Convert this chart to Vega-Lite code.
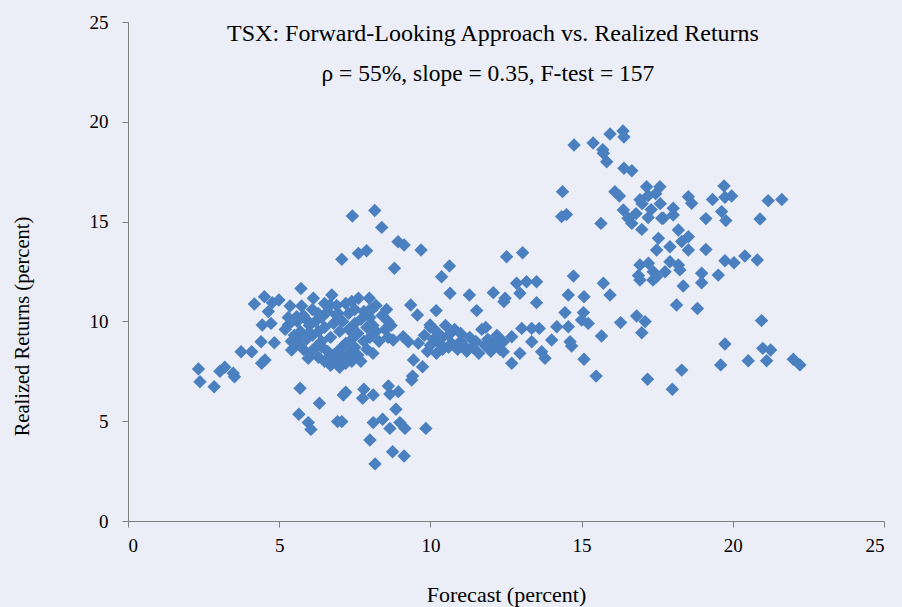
{
  "$schema": "https://vega.github.io/schema/vega-lite/v6.json",
  "width": 756,
  "height": 499,
  "autosize": "none",
  "padding": {"left": 128, "top": 22, "right": 18, "bottom": 86},
  "background": "#ebeef6",
  "config": {"view": {"stroke": null}, "font": "Liberation Serif"},
  "datasets": {
    "pts": [
      {"f":2.33,"r":7.62},{"f":2.38,"r":6.98},{"f":2.85,"r":6.73},{"f":3.04,"r":7.5},{"f":3.2,"r":7.7},{"f":3.48,"r":7.4},{"f":3.52,"r":7.23},{"f":3.74,"r":8.48},{"f":4.09,"r":8.48},{"f":4.42,"r":7.9},{"f":4.53,"r":8.07},{"f":4.4,"r":8.98},{"f":4.84,"r":8.93},{"f":4.44,"r":9.82},{"f":4.73,"r":9.9},{"f":4.18,"r":10.87},{"f":4.51,"r":11.24},{"f":4.77,"r":10.94},{"f":4.99,"r":11.07},{"f":4.64,"r":10.49},{"f":5.36,"r":10.77},{"f":5.74,"r":10.77},{"f":6.13,"r":11.16},{"f":6.74,"r":11.32},{"f":6.68,"r":10.82},{"f":5.3,"r":9.82},{"f":5.58,"r":10.24},{"f":5.91,"r":10.07},{"f":6.29,"r":10.4},{"f":6.95,"r":10.4},{"f":5.41,"r":8.57},{"f":5.63,"r":9.23},{"f":5.96,"r":9.4},{"f":5.96,"r":8.15},{"f":6.4,"r":8.73},{"f":6.74,"r":8.23},{"f":5.72,"r":11.65},{"f":5.69,"r":6.65},{"f":6.33,"r":5.9},{"f":5.65,"r":5.35},{"f":5.96,"r":4.93},{"f":6.05,"r":4.59},{"f":6.93,"r":4.98},{"f":7.12,"r":6.31},{"f":7.2,"r":6.45},
      {"f":7.8,"r":6.6},{"f":7.76,"r":6.15},{"f":8.11,"r":6.31},{"f":8.61,"r":6.76},{"f":8.66,"r":6.36},{"f":8.94,"r":6.48},{"f":9.38,"r":7.06},{"f":7.07,"r":4.98},{"f":8.11,"r":4.93},{"f":8.42,"r":5.1},{"f":8.86,"r":5.6},{"f":8.66,"r":4.64},{"f":8.99,"r":4.93},{"f":9.16,"r":4.64},{"f":9.85,"r":4.64},{"f":8.0,"r":4.06},{"f":8.75,"r":3.47},{"f":9.13,"r":3.26},{"f":8.17,"r":2.86},
      {"f":7.42,"r":15.28},{"f":8.16,"r":15.56},{"f":8.39,"r":14.71},{"f":8.93,"r":13.99},{"f":9.13,"r":13.83},{"f":9.69,"r":13.58},{"f":7.07,"r":13.11},{"f":7.62,"r":13.41},{"f":7.89,"r":13.54},{"f":8.81,"r":12.66},{"f":10.63,"r":12.78},{"f":10.37,"r":12.24},{"f":10.65,"r":11.41},{"f":11.29,"r":11.32},{"f":12.08,"r":11.44},{"f":12.47,"r":11.16},{"f":12.52,"r":13.24},{"f":7.62,"r":11.16},{"f":7.98,"r":11.16},
      {"f":8.06,"r":10.6},{"f":8.55,"r":10.6},{"f":8.77,"r":9.07},{"f":9.1,"r":9.23},{"f":9.27,"r":8.98},{"f":9.44,"r":8.07},{"f":9.74,"r":7.73},{"f":9.41,"r":7.26},{"f":9.35,"r":10.82},{"f":9.57,"r":10.32},{"f":10.19,"r":10.54},{"f":11.53,"r":10.54},{"f":11.83,"r":9.7},{"f":9.99,"r":9.82},{"f":12.43,"r":10.99},
      {"f":5.2,"r":9.6},{"f":5.3,"r":10.2},{"f":5.4,"r":9.0},{"f":5.5,"r":9.3},{"f":5.6,"r":8.9},{"f":5.6,"r":10.0},{"f":5.7,"r":9.5},{"f":5.8,"r":8.6},{"f":5.8,"r":10.3},{"f":5.9,"r":9.1},{"f":6.0,"r":9.8},{"f":6.0,"r":8.4},{"f":6.1,"r":10.6},{"f":6.1,"r":9.3},{"f":6.2,"r":8.7},{"f":6.2,"r":10.0},{"f":6.3,"r":9.5},{"f":6.3,"r":8.2},{"f":6.4,"r":10.2},{"f":6.4,"r":9.0},{"f":6.5,"r":8.0},{"f":6.5,"r":9.7},{"f":6.6,"r":8.5},{"f":6.6,"r":10.5},{"f":6.7,"r":7.8},{"f":6.7,"r":9.2},{"f":6.8,"r":8.3},{"f":6.8,"r":9.9},{"f":6.9,"r":8.0},{"f":6.9,"r":10.3},{"f":7.0,"r":8.6},{"f":7.0,"r":7.7},{"f":7.0,"r":9.5},{"f":7.1,"r":8.2},{"f":7.1,"r":10.0},{"f":7.2,"r":8.9},{"f":7.2,"r":7.9},{"f":7.3,"r":9.6},{"f":7.3,"r":8.4},{"f":7.3,"r":10.4},{"f":7.4,"r":8.0},{"f":7.4,"r":9.1},{"f":7.5,"r":8.7},{"f":7.5,"r":9.9},{"f":7.5,"r":10.6},{"f":7.6,"r":8.3},{"f":7.6,"r":9.4},{"f":7.7,"r":10.1},{"f":7.7,"r":8.0},{"f":7.8,"r":9.0},{"f":7.8,"r":10.5},{"f":7.9,"r":8.6},{"f":7.9,"r":9.7},{"f":8.0,"r":9.2},{"f":8.0,"r":10.2},{"f":8.1,"r":8.4},{"f":8.1,"r":9.8},{"f":8.2,"r":9.5},{"f":8.2,"r":10.8},{"f":8.3,"r":9.0},{"f":8.4,"r":10.3},{"f":8.5,"r":9.6},{"f":8.6,"r":9.2},{"f":8.6,"r":10.0},{"f":8.7,"r":9.8},{"f":6.9,"r":10.8},{"f":7.2,"r":10.9},{"f":7.4,"r":11.0},{"f":6.5,"r":10.9},{"f":8.0,"r":10.6},
      {"f":9.6,"r":8.9},{"f":9.8,"r":9.3},{"f":9.9,"r":8.5},{"f":10.0,"r":9.7},{"f":10.0,"r":8.8},{"f":10.1,"r":9.1},{"f":10.2,"r":8.4},{"f":10.2,"r":9.5},{"f":10.3,"r":8.9},{"f":10.4,"r":9.2},{"f":10.4,"r":8.6},{"f":10.5,"r":9.8},{"f":10.6,"r":8.7},{"f":10.6,"r":9.3},{"f":10.7,"r":8.9},{"f":10.8,"r":9.6},{"f":10.9,"r":8.6},{"f":11.0,"r":9.0},{"f":11.0,"r":9.4},{"f":11.1,"r":8.8},{"f":11.2,"r":8.5},{"f":11.3,"r":9.2},{"f":11.4,"r":8.7},{"f":11.5,"r":9.0},{"f":11.6,"r":8.4},{"f":11.7,"r":9.6},{"f":11.8,"r":8.8},{"f":11.9,"r":9.1},{"f":12.0,"r":8.5},{"f":12.1,"r":8.9},{"f":12.2,"r":9.3},{"f":12.3,"r":8.6},
      {"f":12.85,"r":11.91},{"f":13.18,"r":11.99},{"f":13.51,"r":11.99},{"f":12.96,"r":11.41},{"f":13.51,"r":10.94},{"f":14.56,"r":11.32},{"f":15.08,"r":11.24},{"f":15.72,"r":11.91},{"f":15.94,"r":11.32},{"f":16.93,"r":12.07},{"f":17.36,"r":12.07},{"f":14.45,"r":10.44},{"f":15.06,"r":10.44},{"f":15.0,"r":10.07},{"f":15.22,"r":9.9},{"f":16.29,"r":9.94},{"f":16.82,"r":10.27},{"f":17.1,"r":9.99},{"f":16.99,"r":9.43},{"f":15.66,"r":9.27},{"f":13.02,"r":9.65},{"f":13.35,"r":9.65},{"f":13.6,"r":9.65},{"f":14.18,"r":9.73},{"f":14.56,"r":9.73},{"f":14.62,"r":8.98},{"f":14.67,"r":8.77},{"f":14.01,"r":9.07},{"f":13.35,"r":8.98},{"f":13.68,"r":8.48},{"f":13.79,"r":8.15},{"f":12.96,"r":8.4},{"f":12.69,"r":7.9},{"f":12.41,"r":8.98},{"f":12.69,"r":9.23},{"f":12.41,"r":8.48},{"f":15.08,"r":8.1},{"f":15.48,"r":7.26},{"f":17.18,"r":7.1},{"f":18.0,"r":6.6},{"f":18.31,"r":7.56},
      {"f":15.72,"r":18.42},{"f":15.83,"r":18.0},{"f":16.4,"r":17.67},{"f":16.66,"r":17.55},{"f":14.37,"r":16.5},{"f":16.1,"r":16.5},{"f":16.25,"r":16.28},{"f":17.15,"r":16.75},{"f":17.59,"r":16.75},{"f":16.93,"r":16.1},{"f":17.2,"r":16.3},{"f":17.45,"r":16.4},{"f":14.34,"r":15.25},{"f":14.5,"r":15.35},{"f":15.64,"r":14.91},{"f":16.38,"r":15.58},{"f":16.54,"r":15.17},{"f":16.66,"r":14.91},{"f":16.99,"r":14.61},{"f":17.65,"r":15.17},{"f":17.54,"r":14.16},{"f":17.48,"r":13.58},{"f":13.05,"r":13.44},{"f":16.93,"r":12.83},{"f":17.21,"r":12.91},{"f":17.37,"r":12.49},{"f":16.88,"r":12.3},{"f":17.48,"r":12.24},{"f":14.73,"r":12.27},
      {"f":17.0,"r":15.9},{"f":17.3,"r":15.6},{"f":16.8,"r":15.4},{"f":17.2,"r":15.2},{"f":17.6,"r":15.9},
      {"f":14.75,"r":18.84},{"f":15.38,"r":18.94},{"f":15.7,"r":18.6},{"f":15.94,"r":19.39},{"f":16.37,"r":19.54},{"f":16.4,"r":19.24},
      {"f":18.53,"r":16.25},{"f":18.64,"r":15.92},{"f":19.33,"r":16.11},{"f":19.71,"r":16.78},{"f":19.74,"r":16.22},{"f":19.96,"r":16.28},{"f":21.17,"r":16.05},{"f":21.62,"r":16.11},{"f":20.9,"r":15.13},{"f":19.11,"r":15.15},{"f":19.63,"r":15.5},{"f":19.77,"r":15.05},{"f":18.03,"r":15.67},{"f":18.03,"r":15.33},{"f":17.7,"r":15.17},{"f":18.2,"r":14.58},{"f":18.53,"r":14.24},{"f":18.31,"r":14.0},{"f":17.92,"r":13.74},{"f":19.11,"r":13.6},
      {"f":18.53,"r":13.58},{"f":17.92,"r":12.99},{"f":18.2,"r":12.83},{"f":18.25,"r":12.58},{"f":17.76,"r":12.49},{"f":19.74,"r":13.04},{"f":20.04,"r":12.94},{"f":20.4,"r":13.28},{"f":20.81,"r":13.08},{"f":18.97,"r":12.41},{"f":18.97,"r":11.94},{"f":19.52,"r":12.32},{"f":18.36,"r":11.77},{"f":18.14,"r":10.82},{"f":18.83,"r":10.65},{"f":20.95,"r":10.04},{"f":19.74,"r":8.87},{"f":20.99,"r":8.65},{"f":21.25,"r":8.57},{"f":21.12,"r":8.03},{"f":20.51,"r":8.03},{"f":19.6,"r":7.82},{"f":22.0,"r":8.1},{"f":22.22,"r":7.82}
    ]
  },
  "layer": [
    {
      "data": {"name": "pts"},
      "mark": {"type": "point", "shape": "diamond", "filled": true, "size": 180, "color": "#4a7fc0", "opacity": 1},
      "encoding": {
        "x": {
          "field": "f", "type": "quantitative",
          "scale": {"domain": [0, 25], "nice": false, "zero": false},
          "axis": {
            "title": "Forecast (percent)", "values": [0, 5, 10, 15, 20, 25],
            "grid": false, "domainColor": "#7f7f7f", "tickColor": "#7f7f7f", "tickSize": 6,
            "labelFont": "Liberation Serif", "labelFontSize": 19, "labelColor": "#000000", "labelPadding": 9,
            "titleFont": "Liberation Serif", "titleFontSize": 22, "titleFontWeight": "normal", "titleColor": "#000000",
            "titleY": 73, "titleBaseline": "middle"
          }
        },
        "y": {
          "field": "r", "type": "quantitative",
          "scale": {"domain": [0, 25], "nice": false, "zero": false},
          "axis": {
            "title": "Realized Returns (percent)", "values": [0, 5, 10, 15, 20, 25],
            "grid": false, "domainColor": "#7f7f7f", "tickColor": "#7f7f7f", "tickSize": 6,
            "labelFont": "Liberation Serif", "labelFontSize": 19, "labelColor": "#000000", "labelPadding": 14,
            "titleFont": "Liberation Serif", "titleFontSize": 20.5, "titleFontWeight": "normal", "titleColor": "#000000",
            "titleX": -106, "titleY": 304, "titleBaseline": "middle", "titleAlign": "center"
          }
        }
      }
    },
    {
      "data": {"values": [{}]},
      "mark": {"type": "text", "font": "Liberation Serif", "fontSize": 24, "color": "#000000", "align": "center", "baseline": "middle"},
      "encoding": {
        "x": {"datum": 12.07, "type": "quantitative"},
        "y": {"datum": 24.4, "type": "quantitative"},
        "text": {"value": "TSX: Forward-Looking Approach vs. Realized Returns"}
      }
    },
    {
      "data": {"values": [{}]},
      "mark": {"type": "text", "font": "Liberation Serif", "fontSize": 23.5, "color": "#000000", "align": "center", "baseline": "middle"},
      "encoding": {
        "x": {"datum": 11.9, "type": "quantitative"},
        "y": {"datum": 22.4, "type": "quantitative"},
        "text": {"value": "ρ = 55%, slope = 0.35, F-test = 157"}
      }
    }
  ]
}
